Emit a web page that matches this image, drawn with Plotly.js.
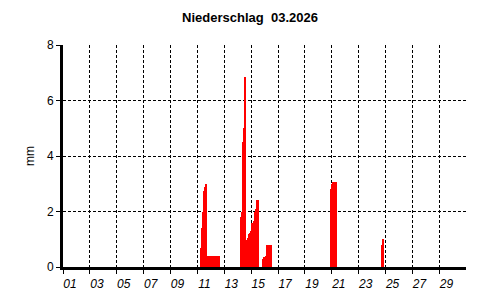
<!DOCTYPE html>
<html><head><meta charset="utf-8">
<script src="https://cdn.plot.ly/plotly-3.0.1.min.js"></script>
<style>html,body{margin:0;padding:0;background:#fff}#chart{width:500px;height:300px}</style>
</head><body><div id="chart"></div>
<script>
const chartTitle = 'Niederschlag\u00a0 03.2026';
const yLabel = 'mm';
// hourly precipitation (mm), each event starting at the given hour
const eventStarts = ['2026-03-11T06:00', '2026-03-14T05:00', '2026-03-20T21:00', '2026-03-24T17:00'];
const event1 = [0.7, 0.8, 1.4, 2.0, 2.6, 2.75, 2.8, 2.9, 3.0, 3.0, 0,
  0.4, 0.4, 0.4, 0.4, 0.4, 0.4, 0.4, 0.4, 0.4, 0.4, 0.4,
  0.4, 0.4, 0.4, 0.4, 0.4, 0.4, 0.4, 0.4, 0.4, 0.4, 0.4];
const event2 = [1.8, 2.0, 2.0, 4.4, 4.5, 5.0, 5.0, 6.85, 0.4, 0.43,
  0.95, 0.97, 1.0, 1.05, 1.1, 1.2, 1.23, 1.25, 1.3, 1.55, 1.6, 1.6, 1.6, 1.65, 1.7,
  2.0, 2.05, 2.1, 2.4, 2.4, 2.4, 2.4,
  0, 0, 0, 0, 0, 0, 0, 0,
  0.3, 0.37, 0.37, 0.37, 0.37, 0.4,
  0.8, 0.8, 0.8, 0.8, 0.8, 0.8, 0.8, 0.8, 0.8];
const event3 = [2.75, 2.8, 2.8, 3.0, 3.05, 3.05, 3.05, 3.05, 3.05, 3.05, 3.05, 3.05];
const event4 = [0.8, 0.9, 1.0, 1.0];
const events = [event1, event2, event3, event4];

const HOUR = 3600000;
const xs = [], ys = [];
events.forEach(function (vals, i) {
  const t0 = Date.parse(eventStarts[i] + ':00Z');
  vals.forEach(function (v, j) {
    xs.push(new Date(t0 + j * HOUR).toISOString().slice(0, 19).replace('T', ' '));
    ys.push(v);
  });
});

const font = {family: 'Liberation Sans, Arial, sans-serif', size: 12, color: '#000'};
const axisCommon = {
  showgrid: true, gridcolor: '#000', gridwidth: 1, griddash: '3px,2px',
  showline: true, linecolor: '#000', linewidth: 3,
  ticks: 'outside', ticklen: 4, tickcolor: '#000', tickwidth: 1,
  zeroline: false, fixedrange: true
};

Plotly.newPlot('chart', [{
  type: 'bar', x: xs, y: ys, width: HOUR, offset: 0,
  marker: {color: '#ff0000', line: {width: 0}},
  hoverinfo: 'skip'
}], {
  width: 500, height: 300,
  paper_bgcolor: '#fff', plot_bgcolor: '#fff',
  margin: {l: 63, r: 34, t: 45, b: 33},
  showlegend: false, bargap: 0,
  font: font,
  title: {text: '<b>' + chartTitle + '</b>', font: {family: font.family, size: 13, color: '#000'},
    x: 0.5, xref: 'container', xanchor: 'center', y: 1 - 17 / 300, yref: 'container', yanchor: 'middle'},
  xaxis: Object.assign({}, axisCommon, {
    type: 'date', range: ['2026-03-01', '2026-03-30 23:30'],
    tick0: '2026-03-01', dtick: 2 * 86400000, tickformat: '%d',
    tickfont: {family: font.family, size: 12, color: '#000', style: 'italic'},
    ticklabelshift: 7
  }),
  yaxis: Object.assign({}, axisCommon, {
    range: [0, 8], dtick: 2,
    tickfont: {family: font.family, size: 12, color: '#000'},
    title: {text: yLabel, font: {family: font.family, size: 12, color: '#000'}, standoff: 10}
  })
}, {displayModeBar: false});
</script>
</body></html>
